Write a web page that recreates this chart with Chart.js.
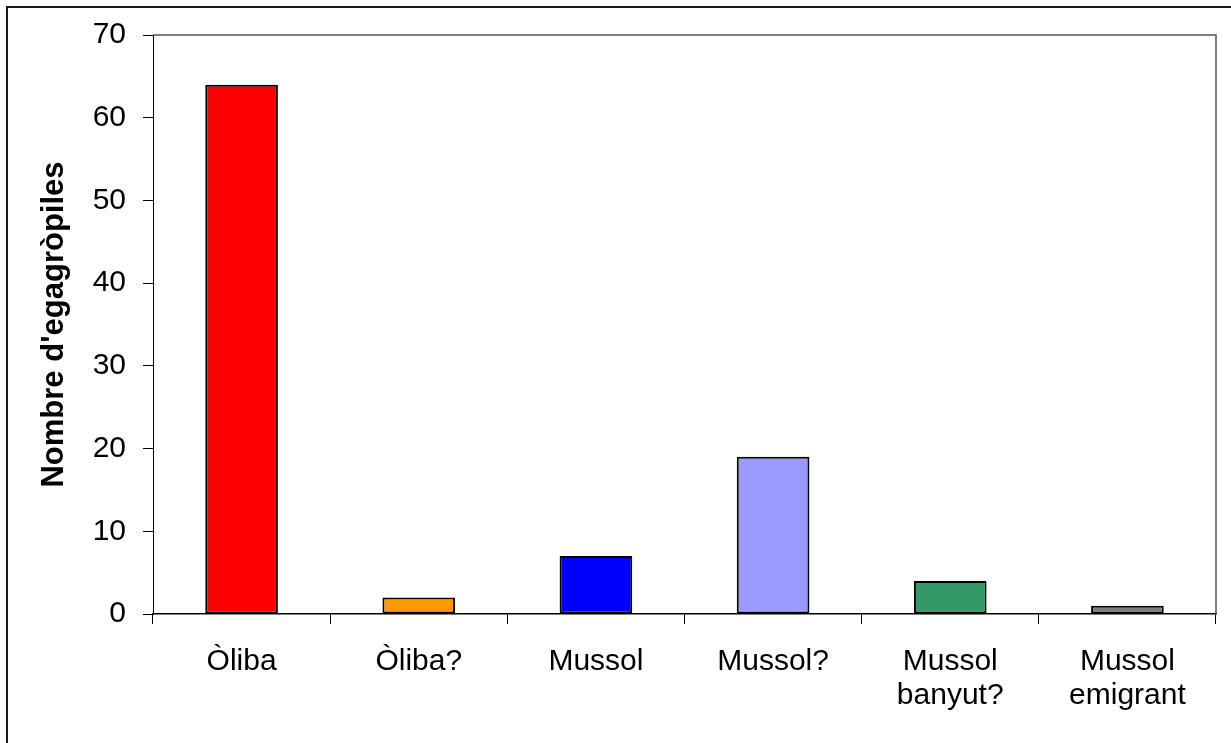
<!DOCTYPE html>
<html>
<head>
<meta charset="utf-8">
<title>Nombre d'egagròpiles</title>
<script src="https://cdn.jsdelivr.net/npm/chart.js@4.4.1/dist/chart.umd.min.js"></script>
<style>
    html, body { margin: 0; padding: 0; background: #fff; }
    #wrap { width: 1231px; height: 743px; position: relative; }
</style>
</head>
<body>
<div id="wrap"><canvas id="pelletChart"></canvas></div>
<script>
// Pellets counted per owl species
const categories = ["Òliba", "Òliba?", "Mussol", "Mussol?", ["Mussol", "banyut?"], ["Mussol", "emigrant"]];
const pelletCounts = [64, 2, 7, 19, 4, 1];
const barColors = ["#ff0000", "#ff9900", "#0000ff", "#9999ff", "#339966", "#808080"];
const yTicks = [0, 10, 20, 30, 40, 50, 60, 70];

const FONT = "Arial, 'Liberation Sans', sans-serif";

// Outer frame around the whole figure plus the top/right edges of the plot area
const framePlugin = {
    id: "frame",
    beforeDraw(chart) {
        const ctx = chart.ctx;
        ctx.save();
        ctx.fillStyle = "#ffffff";
        ctx.fillRect(0, 0, chart.width, chart.height);
        ctx.strokeStyle = "#1a1a1a";
        ctx.lineWidth = 2;
        ctx.beginPath();
        ctx.moveTo(chart.width + 5, 7);
        ctx.lineTo(7, 7);
        ctx.lineTo(7, chart.height + 5);
        ctx.stroke();
        ctx.restore();
    },
    afterDraw(chart) {
        const a = chart.chartArea;
        const ctx = chart.ctx;
        ctx.save();
        ctx.strokeStyle = "#555555";
        ctx.lineWidth = 1.5;
        ctx.beginPath();
        ctx.moveTo(a.left, a.top);
        ctx.lineTo(a.right, a.top);
        ctx.lineTo(a.right, a.bottom);
        ctx.stroke();
        ctx.restore();
    }
};

new Chart(document.getElementById("pelletChart"), {
    type: "bar",
    data: {
        labels: categories,
        datasets: [{
            data: pelletCounts,
            backgroundColor: barColors,
            borderColor: "#000000",
            borderWidth: 2,
            borderSkipped: false,
            categoryPercentage: 1,
            barPercentage: 0.41
        }]
    },
    options: {
        responsive: true,
        maintainAspectRatio: false,
        animation: false,
        layout: { padding: { top: 33, right: 15, bottom: 0, left: 0 } },
        plugins: {
            legend: { display: false },
            tooltip: { enabled: false }
        },
        scales: {
            x: {
                grid: {
                    drawOnChartArea: false,
                    drawTicks: true,
                    tickLength: 10,
                    color: "#000000",
                    lineWidth: 1
                },
                border: { display: true, color: "#000000", width: 1.5 },
                ticks: {
                    color: "#000000",
                    padding: 21,
                    maxRotation: 0,
                    autoSkip: false,
                    font: { family: FONT, size: 30, lineHeight: 1.13 }
                },
                afterFit(scale) { scale.height = 129; }
            },
            y: {
                min: 0,
                max: 70,
                afterBuildTicks(scale) {
                    scale.ticks = yTicks.map(v => ({ value: v }));
                },
                grid: {
                    drawOnChartArea: false,
                    drawTicks: true,
                    tickLength: 10,
                    color: "#000000",
                    lineWidth: 1
                },
                border: { display: true, color: "#000000", width: 1 },
                ticks: {
                    color: "#000000",
                    padding: 17,
                    font: { family: FONT, size: 30 }
                },
                title: {
                    display: true,
                    text: "Nombre d'egagròpiles",
                    color: "#000000",
                    padding: { top: 36, bottom: 0 },
                    font: { family: FONT, size: 31, weight: "bold", lineHeight: 1.2 }
                },
                afterFit(scale) { scale.width = 153; }
            }
        }
    },
    plugins: [framePlugin]
});
</script>
</body>
</html>
